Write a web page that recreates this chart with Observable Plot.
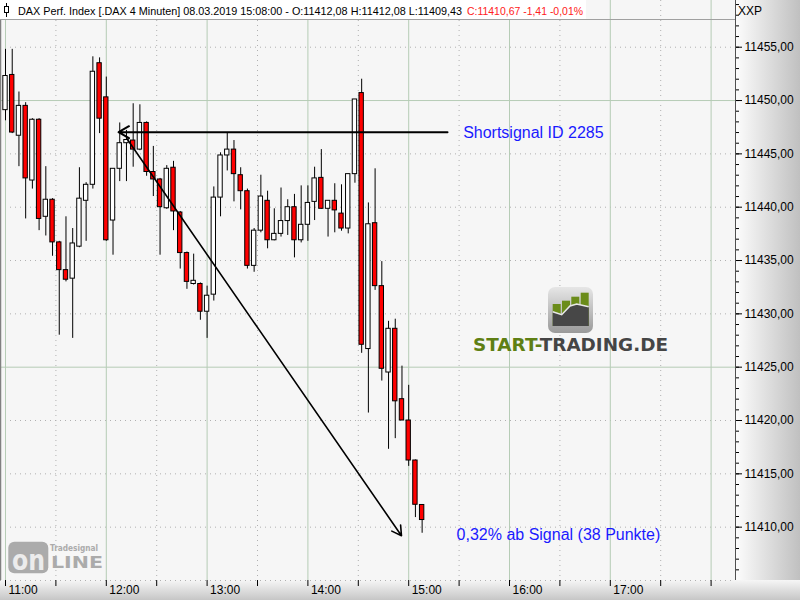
<!DOCTYPE html>
<html><head><meta charset="utf-8">
<script src="https://cdn.jsdelivr.net/npm/d3@7"></script>
<script src="https://cdn.jsdelivr.net/npm/@observablehq/plot@0.6"></script>
<style>
body{margin:0;background:#fff;}
#wrap{position:relative;width:800px;height:600px;overflow:hidden;font-family:"Liberation Sans",Arial,sans-serif;}
.abs{position:absolute;}
</style></head><body>
<div id="wrap">
  <div class="abs" style="left:0;top:0;width:735px;height:580px;background:#f6f6f6"></div>
  <div class="abs" style="left:735px;top:0;width:65px;height:580px;background:linear-gradient(to right,#fdfdfd,#c0c0c0)"></div>
  <div class="abs" style="left:0;top:580px;width:800px;height:20px;background:linear-gradient(to bottom,#f6f6f6,#c6c6c6)"></div>
  <div id="chart" class="abs" style="left:0;top:0"></div>
  <svg class="abs" style="left:0;top:0" width="800" height="600" id="overlay"></svg>
</div>
<script>
// ---- data ----
const times = ["11:00","11:04","11:08","11:12","11:16","11:20","11:24","11:28","11:32","11:36","11:40","11:44","11:48","11:52","11:56",
  "12:00","12:04","12:08","12:12","12:16","12:20","12:24","12:28","12:32","12:36","12:40","12:44","12:48","12:52","12:56",
  "13:00","13:04","13:08","13:12","13:16","13:20","13:24","13:28","13:32","13:36","13:40","13:44","13:48","13:52","13:56",
  "14:00","14:04","14:08","14:12","14:16","14:20","14:24","14:28","14:32","14:36","14:40","14:44","14:48","14:52","14:56",
  "15:00","15:04","15:08"];
const open = [11449.1,11452.4,11446.7,11449.5,11442.5,11448.2,11439.1,11440.7,11436.7,11434.1,11433.3,11436.3,11440.6,11442.1,11453.5,
  11450.3,11438.75,11443.6,11446.0,11446.25,11445.4,11447.9,11443.3,11442.6,11439.9,11443.7,11439.5,11435.7,11432.8,11432.8,
  11430.2,11431.8,11440.9,11444.85,11445.4,11443.0,11441.5,11434.5,11437.8,11440.6,11436.9,11437.5,11438.7,11440.0,11436.9,
  11438.35,11440.5,11442.75,11439.85,11440.6,11439.4,11438.0,11443.1,11450.7,11426.7,11438.5,11432.6,11424.5,11428.6,11422.0,
  11420.0,11416.25,11412.08];
const high = [11454.8,11454.8,11450.8,11449.8,11448.3,11448.3,11443.8,11440.8,11436.8,11439.1,11438.0,11443.7,11442.3,11454.1,11454.0,
  11452.2,11443.6,11447.9,11447.2,11449.7,11449.6,11448.0,11445.7,11442.7,11443.9,11444.3,11439.6,11435.8,11435.6,11432.9,
  11432.6,11441.9,11445.1,11447.0,11446.25,11443.7,11441.7,11438.0,11443.0,11441.5,11439.85,11441.8,11440.7,11441.2,11442.0,
  11442.0,11443.75,11445.4,11440.6,11442.2,11442.1,11443.1,11450.1,11452.0,11440.4,11443.6,11434.9,11429.3,11429.5,11425.1,
  11423.3,11416.3,11412.08];
const low = [11448.1,11446.9,11443.8,11438.9,11441.7,11437.8,11437.3,11435.4,11428.0,11433.0,11427.7,11436.2,11436.8,11441.7,11446.9,
  11436.8,11435.5,11442.4,11442.4,11443.75,11445.3,11442.9,11441.0,11435.5,11439.8,11437.8,11434.2,11432.3,11432.7,11429.4,
  11427.7,11431.2,11439.1,11443.4,11440.5,11439.75,11434.2,11433.9,11437.6,11436.1,11436.85,11437.2,11437.35,11435.25,11436.65,
  11436.8,11438.75,11439.8,11437.2,11437.6,11437.75,11437.5,11442.25,11426.3,11420.7,11432.2,11423.7,11417.3,11418.3,11420.0,
  11415.7,11410.9,11409.43];
const close = [11452.3,11447.0,11449.5,11442.7,11448.2,11438.9,11440.7,11436.7,11434.1,11433.2,11436.6,11440.8,11442.1,11452.7,11448.3,
  11436.9,11443.6,11446.0,11446.3,11445.4,11447.9,11443.3,11442.6,11440.0,11443.6,11439.6,11435.7,11433.0,11433.1,11430.2,
  11431.7,11440.9,11444.85,11445.4,11443.1,11441.5,11434.5,11437.8,11441.0,11436.9,11437.5,11438.7,11440.0,11436.9,11438.35,
  11440.4,11442.7,11439.85,11440.6,11439.7,11438.0,11443.1,11450.1,11427.1,11438.4,11432.6,11424.85,11428.6,11421.8,11420.0,
  11416.25,11412.1,11410.67];

const hourGrid = ["11:00","12:00","13:00","14:00","15:00","16:00","17:00","18:00"];
const hourLabels = ["11:00","12:00","13:00","14:00","15:00","16:00","17:00"];
const halfHourGrid = ["11:30","12:30","13:30","14:30","15:30","16:30","17:30"];
const priceTicks = [11410,11415,11420,11425,11430,11435,11440,11445,11450,11455];
const solidPrices = [11425,11450];
const dottedPrices = [11405,11410,11415,11420,11430,11435,11440,11445,11455];
const minorPrices = d3.range(11406, 11460, 1);

// annotations (time as minutes after 11:00, price level)
const signalLine = [{from: 263.1, to: 67.3, level: 11447.03}];
const targetArrow = [{t1: 72.4, v1: 11446.4, t2: 235.7, v2: 11409.2}];
const notes = [
  {t: 272.4, v: 11447.0, text: "Shortsignal ID 2285"},
  {t: 268.5, v: 11409.27, text: "0,32% ab Signal (38 Punkte)"}
];

// ---- chart ----
const toMin = s => { const [h, m] = s.split(":").map(Number); return (h - 11) * 60 + m; };
const fmtPrice = v => v.toFixed(2).replace(".", ",");
const candles = times.map((t, i) => ({t: toMin(t), o: open[i], h: high[i], l: low[i], c: close[i]}));

const chart = Plot.plot({
  width: 800, height: 600,
  marginLeft: 0, marginRight: 65, marginTop: 0, marginBottom: 20,
  style: {background: "transparent", fontFamily: "Liberation Sans, Arial, sans-serif", fontSize: "12px", overflow: "visible"},
  x: {type: "linear", domain: [-5 / 1.68, 730 / 1.68], axis: null},
  y: {domain: [11405.0, 11459.38], axis: null},
  marks: [
    Plot.ruleY(dottedPrices, {stroke: "#b0b0b0", strokeDasharray: "1,4"}),
    Plot.ruleX(halfHourGrid.map(toMin), {stroke: "#b0b0b0", strokeDasharray: "1,4"}),
    Plot.ruleY(solidPrices, {stroke: "#b6ccb6"}),
    Plot.ruleX(hourGrid.map(toMin), {stroke: "#b6ccb6"}),
    Plot.ruleX(candles, {x: "t", y1: "l", y2: "h", stroke: "#000", strokeWidth: 1}),
    Plot.rect(candles, {x1: d => d.t - 1.3, x2: d => d.t + 1.3, y1: "o", y2: "c",
      fill: d => d.c >= d.o ? "#ffffff" : "#ff0000", stroke: "#000", strokeWidth: 1}),
    Plot.arrow(signalLine, {x1: "from", y1: "level", x2: "to", y2: "level", stroke: "#000", strokeWidth: 2, headLength: 9}),
    Plot.arrow(targetArrow, {x1: "t1", y1: "v1", x2: "t2", y2: "v2", stroke: "#000", strokeWidth: 1.6, headLength: 10}),
    Plot.text(notes, {x: "t", y: "v", text: "text", textAnchor: "start", fill: "#1a1aff", fontSize: 16}),
    Plot.axisY(minorPrices, {anchor: "right", tickSize: 3, tickFormat: () => "", stroke: "#000", label: null}),
    Plot.axisY(priceTicks, {anchor: "right", tickSize: 6, tickPadding: 3, tickFormat: fmtPrice, fontSize: 12, fill: "#000", stroke: "#000", label: null}),
    Plot.axisX(halfHourGrid.concat(hourGrid).map(toMin), {anchor: "bottom", tickSize: 6, tickFormat: () => "", stroke: "#000", label: null}),
    Plot.text(hourLabels, {x: toMin, text: d => d, frameAnchor: "bottom", dy: 13, dx: 3, textAnchor: "start", fontSize: 12, fill: "#000"})
  ]
});
document.getElementById("chart").appendChild(chart);

// ---- overlays: frame lines, header, logos ----
const ov = d3.select("#overlay");
const FONT = "Liberation Sans, Arial, sans-serif";
ov.append("line").attr("x1", 0.5).attr("x2", 0.5).attr("y1", 0).attr("y2", 580).attr("stroke", "#808080").attr("stroke-width", 1.5);
ov.append("line").attr("x1", 735.5).attr("x2", 735.5).attr("y1", 0).attr("y2", 580).attr("stroke", "#505050");
ov.append("rect").attr("x", 0).attr("y", 0).attr("width", 586).attr("height", 19).attr("fill", "#fff");
ov.append("line").attr("x1", 0).attr("x2", 735).attr("y1", 19.5).attr("y2", 19.5).attr("stroke", "#a0a0a0");
// small candle icon
ov.append("line").attr("x1", 6.5).attr("x2", 6.5).attr("y1", 3).attr("y2", 17).attr("stroke", "#000");
ov.append("rect").attr("x", 4.5).attr("y", 6.5).attr("width", 4).attr("height", 6).attr("fill", "#fff").attr("stroke", "#000");
ov.append("text").attr("x", 18).attr("y", 14.5).attr("font-size", 10.6).attr("font-family", FONT)
  .attr("textLength", 444).attr("lengthAdjust", "spacingAndGlyphs").attr("fill", "#000")
  .text("DAX Perf. Index [.DAX  4 Minuten] 08.03.2019 15:08:00 - O:11412,08 H:11412,08 L:11409,43");
ov.append("text").attr("x", 467).attr("y", 14.5).attr("font-size", 10.6).attr("font-family", FONT)
  .attr("textLength", 116).attr("lengthAdjust", "spacingAndGlyphs").attr("fill", "#ff2020")
  .text("C:11410,67 -1,41 -0,01%");
ov.append("text").attr("x", 738).attr("y", 15).attr("font-size", 12).attr("font-family", FONT).text("XXP");

// START-TRADING.DE logo
const lg = ov.append("g");
const grad = ov.append("defs").append("linearGradient").attr("id", "lgG").attr("x1", 0).attr("x2", 0).attr("y1", 0).attr("y2", 1);
grad.append("stop").attr("offset", "0%").attr("stop-color", "#e6e6e6");
grad.append("stop").attr("offset", "100%").attr("stop-color", "#9a9a9a");
lg.append("rect").attr("x", 548).attr("y", 287).attr("width", 45).attr("height", 46).attr("rx", 7).attr("fill", "url(#lgG)");
const bars = [[552.7, 304], [562, 300.7], [571.3, 296.7], [580.7, 292.7]];
bars.forEach(([bx, by]) => lg.append("rect").attr("x", bx).attr("y", by).attr("width", 8).attr("height", 326 - by).attr("fill", "#6b8c1a"));
lg.append("path").attr("d", "M552.7,311.7 L561.7,314.7 L570,306 L576.7,304 L588.7,306.7 L588.7,326 L552.7,326 Z").attr("fill", "#474747");
lg.append("path").attr("d", "M552.7,311.7 L561.7,314.7 L570,306 L576.7,304 L588.7,306.7").attr("fill", "none").attr("stroke", "#e8e8e8").attr("stroke-width", 1.5);
const lt = lg.append("text").attr("x", 473).attr("y", 351).attr("font-size", 18).attr("font-weight", "bold")
  .attr("font-family", "DejaVu Sans, sans-serif").attr("textLength", 195).attr("lengthAdjust", "spacingAndGlyphs");
lt.append("tspan").attr("fill", "#5f7f14").text("START-");
lt.append("tspan").attr("fill", "#454545").text("TRADING.DE");

// Tradesignal online watermark
const wm = ov.append("g").attr("fill", "#ababab").attr("font-family", "DejaVu Sans, sans-serif").attr("font-weight", "bold");
wm.append("rect").attr("x", 8.3).attr("y", 541.7).attr("width", 40).attr("height", 31.6).attr("rx", 6);
wm.append("text").attr("x", 12).attr("y", 570).attr("font-size", 28).attr("fill", "#ececec").attr("textLength", 33).attr("lengthAdjust", "spacingAndGlyphs").text("on");
wm.append("text").attr("x", 51).attr("y", 568).attr("font-size", 16).attr("textLength", 52).attr("lengthAdjust", "spacingAndGlyphs").text("LINE");
wm.append("text").attr("x", 50).attr("y", 551).attr("font-size", 8).attr("textLength", 48).attr("lengthAdjust", "spacingAndGlyphs").text("Tradesignal");
</script>
</body></html>
